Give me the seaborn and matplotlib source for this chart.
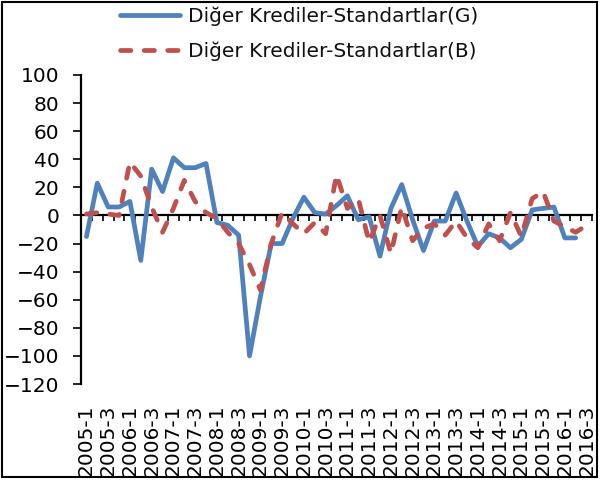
import numpy as np
import pandas as pd
import matplotlib
matplotlib.use('Agg')
import matplotlib.pyplot as plt
from matplotlib.patches import Rectangle
import seaborn as sns

sns.set_theme(context='notebook', style='white')
plt.rcParams['font.family'] = ['DejaVu Sans']

# quarterly periods 2005-1 .. 2016-3
periods = [f'{y}-{q}' for y in range(2005, 2017) for q in range(1, 5)][:47]
tick_labels = periods[::2]

series_g = 'Diğer Krediler-Standartlar(G)'
series_b = 'Diğer Krediler-Standartlar(B)'

values_g = [-15, 23, 6, 6, 10, -32, 33, 17, 41, 34, 34, 37,
            -5, -7, -14, -100, -58, -20, -20, -2, 13, 2, 1, 7,
            14, -3, -1, -29, 5, 22, -3, -25, -4, -4, 16, -4,
            -22, -13, -16, -23, -17, 4, 5, 6, -16, -16, np.nan]
values_b = [1, 2, 1, 0, 38, 28, 6, -12, 5, 25, 10, 2,
            -2, -12, -20, -35, -53, -20, 2, -6, -13, -5, -13, 29,
            5, 12, -19, 0, -27, 6, -18, -9, -6, -14, -4, -16,
            -23, -6, -18, 2, -15, 12, 17, -4, -8, -12, -7]

df = pd.DataFrame({
    'pos': list(range(len(periods))) * 2,
    'value': values_g + values_b,
    'series': [series_g] * len(periods) + [series_b] * len(periods),
})

blue = '#4F81BD'
red = '#C0504D'
fs = 14.5

fig = plt.figure(figsize=(6.03, 4.84), dpi=100)
ax = fig.add_axes([81 / 603, 1 - 384 / 484, 511 / 603, 309 / 484])

sns.lineplot(ax=ax, data=df, x='pos', y='value', hue='series', style='series',
             palette={series_g: blue, series_b: red},
             dashes={series_g: '', series_b: (2.2, 2.8)},
             estimator=None, sort=False, legend=False, lw=3.4,
             dash_capstyle='round', solid_joinstyle='round')
lines = ax.get_lines()
lines[1].set_zorder(3)

ax.set_xlim(-0.5, len(periods) - 0.5)
ax.set_ylim(-120, 100)
ax.set_yticks(np.arange(-120, 101, 20))
ax.set_xlabel('')
ax.set_ylabel('')

for side in ['top', 'right']:
    ax.spines[side].set_visible(False)
ax.spines['left'].set_color('black')
ax.spines['left'].set_linewidth(1.6)
ax.spines['bottom'].set_position(('data', 0))
ax.spines['bottom'].set_color('black')
ax.spines['bottom'].set_linewidth(1.6)
ax.spines['bottom'].set_zorder(1)

ax.set_xticks(np.arange(-0.5, len(periods), 1))
ax.tick_params(axis='x', direction='out', length=4.5, width=1.2, color='black',
               labelbottom=False, bottom=True)
ax.tick_params(axis='y', direction='out', length=5.5, width=1.2, color='black',
               labelsize=fs, pad=10, left=True, labelcolor='black')

ax2 = ax.twiny()
ax2.set_xlim(ax.get_xlim())
ax2.xaxis.set_ticks_position('bottom')
ax2.set_xticks(range(0, len(periods), 2))
ax2.set_xticklabels(tick_labels, rotation=90)
ax2.tick_params(axis='x', length=0, pad=15, labelsize=fs, labelcolor='black')
for s in ax2.spines.values():
    s.set_visible(False)

fig.legend(handles=lines[:2], labels=[series_g, series_b], loc='upper left',
           bbox_to_anchor=(120 / 603, 1 - 7 / 484), frameon=False, fontsize=fs,
           handlelength=3.0, handletextpad=0.4, labelspacing=0.75,
           borderpad=0, borderaxespad=0, labelcolor='#111111')

fig.add_artist(Rectangle((1.5 / 603, 1 - 477 / 484), 595.5 / 603, 475.5 / 484,
                         transform=fig.transFigure, fill=False, ec='black', lw=1.5))

fig.savefig('out.png', dpi=100)
